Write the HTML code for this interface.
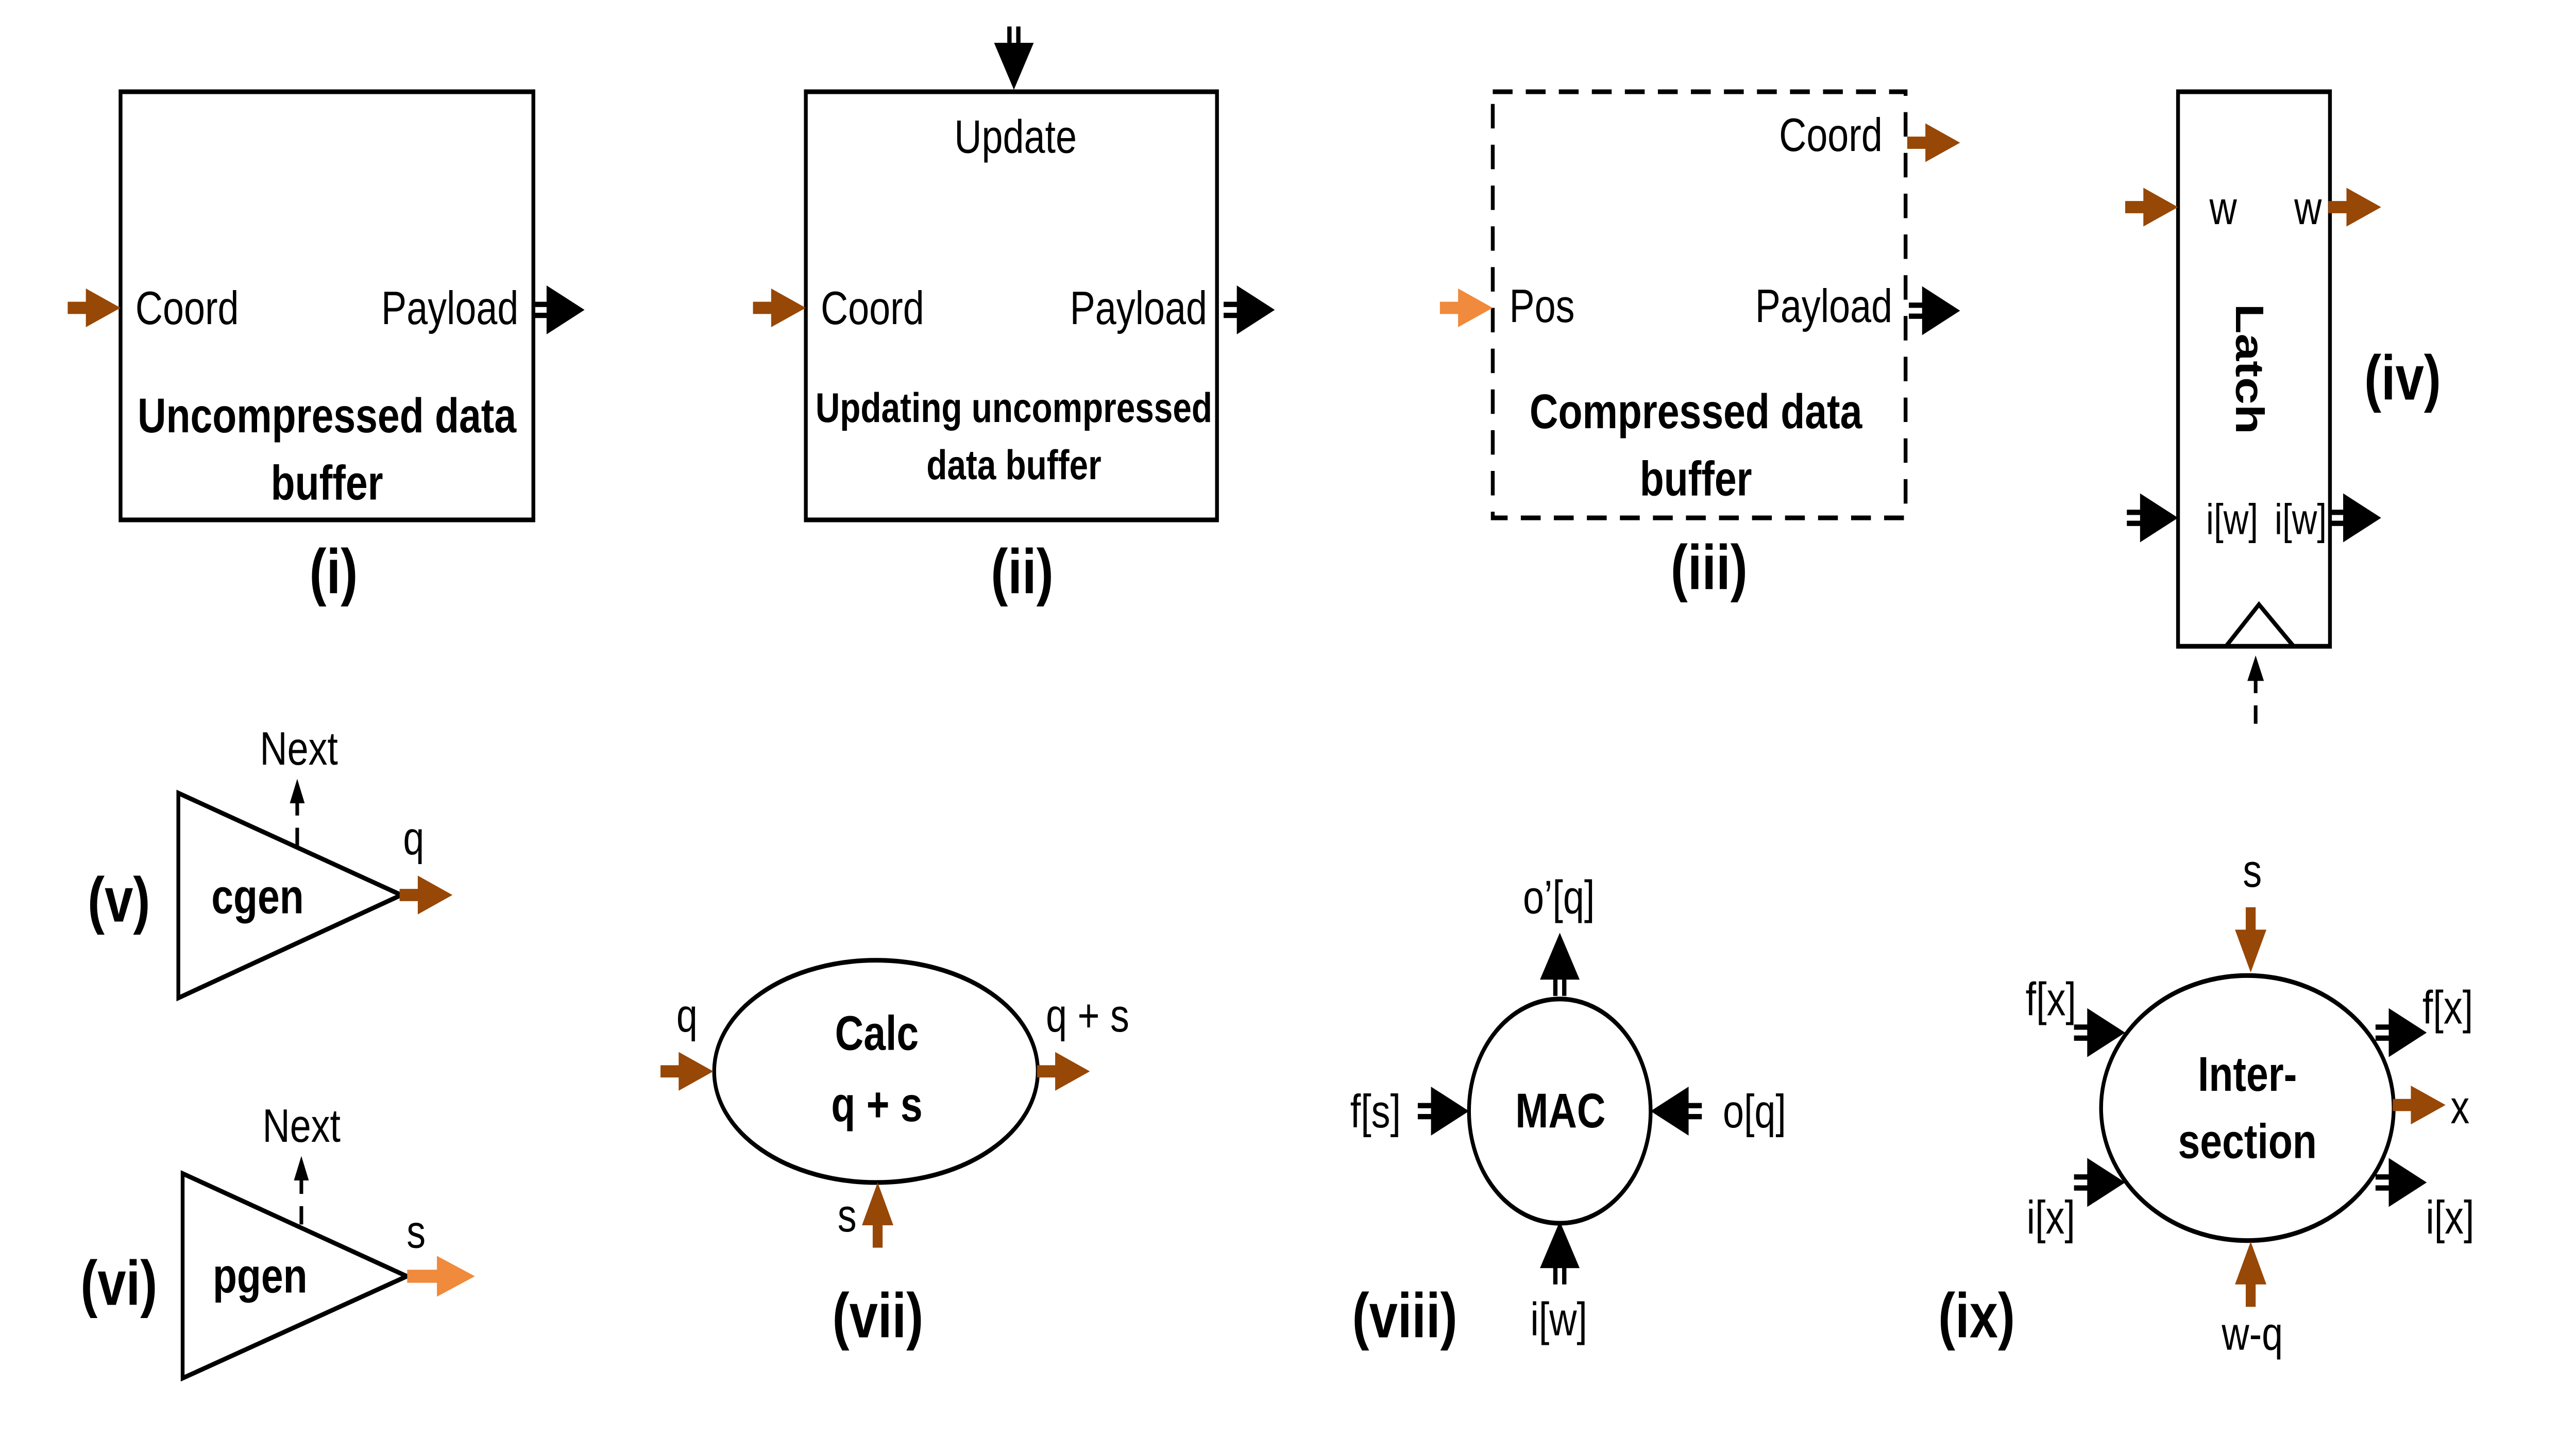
<!DOCTYPE html>
<html><head><meta charset="utf-8"><style>
html,body{margin:0;padding:0;background:#fff;overflow:hidden;width:100%;height:100%;}
svg{display:block;position:fixed;left:0;top:0;width:100vw;height:100vh;}
text{font-family:"Liberation Sans",sans-serif;fill:#000;}
.b{font-weight:bold;}
</style></head><body>
<svg viewBox="0 0 1560 712.2" preserveAspectRatio="none" xmlns="http://www.w3.org/2000/svg">
<defs>
<path id="ba" d="M-32,-3 H-21 V-9.5 L0,0 L-21,9.5 V3 H-32 Z" fill="#974706"/>
<path id="oa" d="M-41,-3.2 H-23 V-10 L0,0 L-23,10 V3.2 H-41 Z" fill="#F08A3C"/>
<path id="ob" d="M-32,-3 H-21 V-9.5 L0,0 L-21,9.5 V3 H-32 Z" fill="#F08A3C"/>
<g id="ka">
<path d="M-23,-12 L0,0 L-23,12 Z" fill="#000"/>
<rect x="-31" y="-4" width="9" height="2.6" fill="#000"/>
<rect x="-31" y="1.4" width="9" height="2.6" fill="#000"/>
</g>
</defs>
<g fill="none" stroke="#000" stroke-width="2.3">
<rect x="73" y="45" width="250" height="210"/>
<rect x="488" y="45" width="249" height="210"/>
<rect x="904" y="45" width="250" height="209" stroke-dasharray="12 8"/>
<rect x="1319" y="45" width="92" height="272"/>
<polyline points="1348,317 1368,296.5 1389,317"/>
<polygon points="108,389 108,489.5 243,439"/>
<polygon points="110.6,575.6 110.6,676 246.4,626"/>
<ellipse cx="530.5" cy="525.5" rx="98" ry="54.5"/>
<ellipse cx="944.6" cy="545" rx="55" ry="55"/>
<ellipse cx="1361" cy="543.5" rx="88.6" ry="65"/>
</g>
<g stroke="#000" stroke-width="2.2" stroke-dasharray="9 6">
<line x1="1366" y1="355" x2="1366" y2="330"/>
<line x1="180" y1="415" x2="180" y2="392"/>
<line x1="182.5" y1="600.6" x2="182.5" y2="577"/>
</g>
<path d="M1366,321.5 L1361,334 L1371,334 Z" fill="#000"/>
<path d="M180,382 L175.5,394 L184.5,394 Z" fill="#000"/>
<path d="M182.5,567 L178,579 L187,579 Z" fill="#000"/>

<use href="#ba" transform="translate(73,151)"/>
<use href="#ka" transform="translate(354,152)"/>
<use href="#ka" transform="translate(614,44) rotate(90)"/>
<use href="#ba" transform="translate(488,151)"/>
<use href="#ka" transform="translate(772,152)"/>
<use href="#ba" transform="translate(1187,70)"/>
<use href="#ob" transform="translate(904,151)"/>
<use href="#ka" transform="translate(1187,152.4)"/>
<use href="#ba" transform="translate(1319,101.6)"/>
<use href="#ba" transform="translate(1442,101.6)"/>
<use href="#ka" transform="translate(1319,254)"/>
<use href="#ka" transform="translate(1442,254)"/>
<use href="#ba" transform="translate(274,439)"/>
<use href="#oa" transform="translate(287.6,626)"/>
<use href="#ba" transform="translate(432,525.5)"/>
<use href="#ba" transform="translate(660,525.5)"/>
<use href="#ba" transform="translate(531.5,580) rotate(-90)"/>
<use href="#ka" transform="translate(944.6,457.5) rotate(-90)"/>
<use href="#ka" transform="translate(944.6,599) rotate(-90)"/>
<use href="#ka" transform="translate(889.6,545)"/>
<use href="#ka" transform="translate(999.6,545) rotate(180)"/>
<use href="#ba" transform="translate(1363,477) rotate(90)"/>
<use href="#ba" transform="translate(1363,609) rotate(-90)"/>
<use href="#ka" transform="translate(1287,506.5)"/>
<use href="#ka" transform="translate(1287,580)"/>
<use href="#ka" transform="translate(1469.6,506.5)"/>
<use href="#ka" transform="translate(1469.6,580)"/>
<use href="#ba" transform="translate(1481,542)"/>

<g font-size="23">
<text x="82" y="159">Coord</text>
<text x="314" y="159" text-anchor="end">Payload</text>
<text x="615" y="75" text-anchor="middle">Update</text>
<text x="497" y="159">Coord</text>
<text x="731" y="159" text-anchor="end">Payload</text>
<text x="1140" y="74" text-anchor="end">Coord</text>
<text x="914" y="158">Pos</text>
<text x="1146" y="158" text-anchor="end">Payload</text>
<text x="1338" y="110">w</text>
<text x="1406" y="110" text-anchor="end">w</text>
<text x="181" y="375" text-anchor="middle">Next</text>
<text x="182.6" y="560" text-anchor="middle">Next</text>
<text x="250.5" y="419" text-anchor="middle">q</text>
<text x="252" y="612" text-anchor="middle">s</text>
<text x="416" y="506" text-anchor="middle">q</text>
<text x="658.6" y="506" text-anchor="middle">q + s</text>
<text x="513" y="604" text-anchor="middle">s</text>
<text x="944" y="448" text-anchor="middle">o’[q]</text>
<text x="944" y="655" text-anchor="middle">i[w]</text>
<text x="833" y="553" text-anchor="middle">f[s]</text>
<text x="1062.5" y="553" text-anchor="middle">o[q]</text>
<text x="1364" y="435" text-anchor="middle">s</text>
<text x="1364" y="662" text-anchor="middle">w-q</text>
<text x="1242" y="498" text-anchor="middle">f[x]</text>
<text x="1242" y="605" text-anchor="middle">i[x]</text>
<text x="1467" y="502">f[x]</text>
<text x="1469" y="605">i[x]</text>
<text x="1484" y="551">x</text>
</g>
<g font-size="21">
<text x="1336" y="262">i[w]</text>
<text x="1409" y="262" text-anchor="end">i[w]</text>
</g>
<g class="b" font-size="24" text-anchor="middle">
<text x="198" y="212" class="b">Uncompressed data</text>
<text x="198" y="245" class="b">buffer</text>
<text x="1027" y="210" class="b">Compressed data</text>
<text x="1027" y="243" class="b">buffer</text>
<text x="156" y="448" class="b">cgen</text>
<text x="157.5" y="634" class="b">pgen</text>
<text x="531" y="515" class="b">Calc</text>
<text x="531" y="550" class="b">q + s</text>
<text x="945" y="553" class="b">MAC</text>
<text x="1361" y="535" class="b">Inter-</text>
<text x="1361" y="568" class="b">section</text>
<text x="1362" y="181" class="b" transform="rotate(90 1362 181)" dy="8">Latch</text>
</g>
<g class="b" font-size="20.5" text-anchor="middle">
<text x="614" y="207" class="b">Updating uncompressed</text>
<text x="614" y="235" class="b">data buffer</text>
</g>
<g class="b" font-size="31" text-anchor="middle">
<text x="202" y="291" class="b">(i)</text>
<text x="619" y="291" class="b">(ii)</text>
<text x="1035" y="289" class="b">(iii)</text>
<text x="1455" y="196" class="b">(iv)</text>
<text x="72" y="452" class="b">(v)</text>
<text x="72" y="640" class="b">(vi)</text>
<text x="531.6" y="656" class="b">(vii)</text>
<text x="850.7" y="656" class="b">(viii)</text>
<text x="1197" y="656" class="b">(ix)</text>
</g>
</svg>
</body></html>
